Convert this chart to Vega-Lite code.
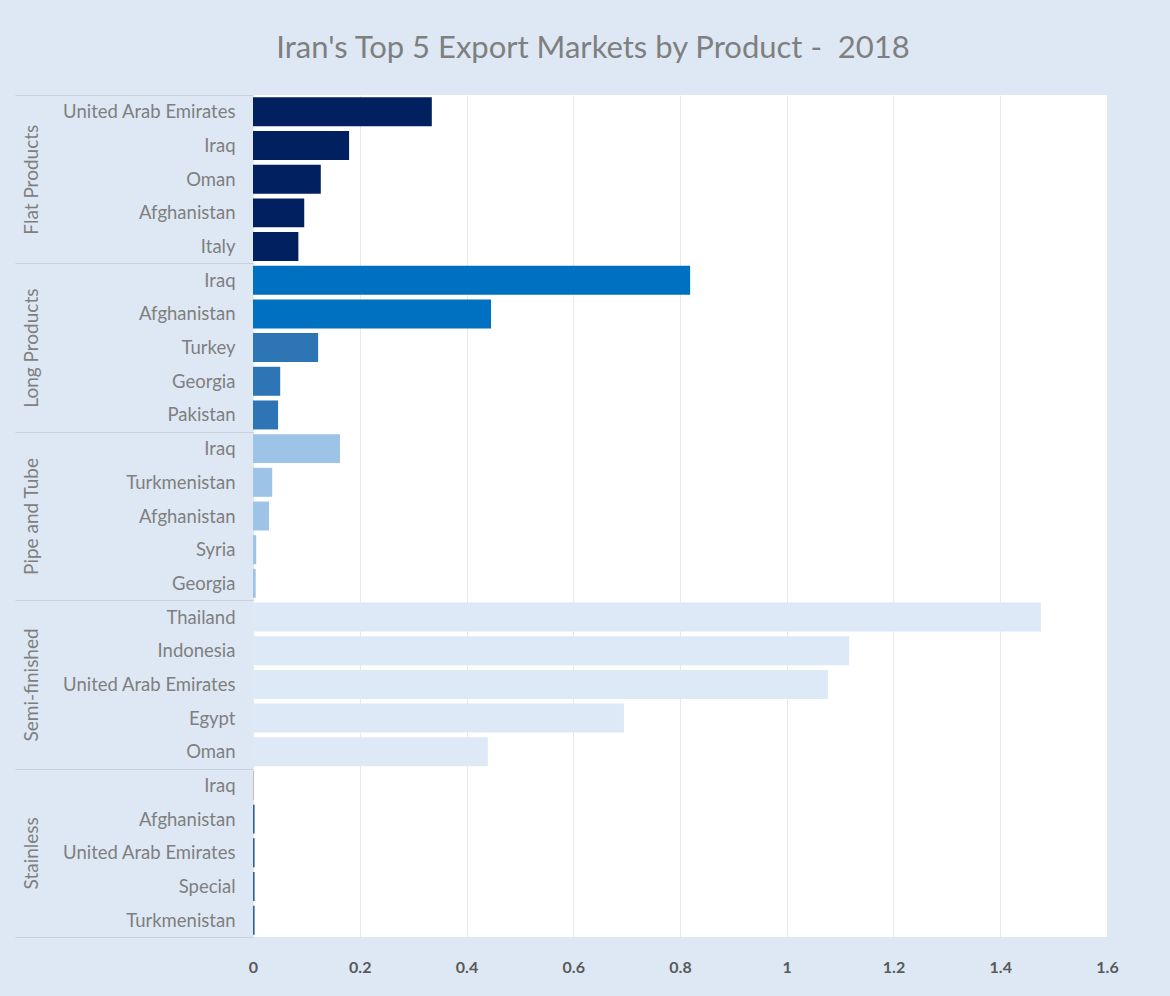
{
  "$schema": "https://vega.github.io/schema/vega-lite/v6.json",
  "width": 854,
  "height": 842,
  "autosize": {"type": "none"},
  "padding": {"left": 253, "top": 95, "right": 63, "bottom": 59},
  "background": "#dee8f4",
  "config": {
    "font": "Lato",
    "view": {"fill": "white", "stroke": null}
  },
  "title": {
    "text": "Iran's Top 5 Export Markets by Product - \u00a02018",
    "fontSize": 31,
    "font": "Lato",
    "fontWeight": "normal",
    "color": "#7f7f7f",
    "anchor": "middle",
    "dx": -87,
    "offset": 21
  },
  "data": {
    "values": [
      {"group": "Flat Products", "country": "United Arab Emirates", "key": "Flat Products|United Arab Emirates", "value": 0.335},
      {"group": "Flat Products", "country": "Iraq", "key": "Flat Products|Iraq", "value": 0.180},
      {"group": "Flat Products", "country": "Oman", "key": "Flat Products|Oman", "value": 0.127},
      {"group": "Flat Products", "country": "Afghanistan", "key": "Flat Products|Afghanistan", "value": 0.096},
      {"group": "Flat Products", "country": "Italy", "key": "Flat Products|Italy", "value": 0.085},
      {"group": "Long Products", "country": "Iraq", "key": "Long Products|Iraq", "value": 0.819},
      {"group": "Long Products", "country": "Afghanistan", "key": "Long Products|Afghanistan", "value": 0.446},
      {"group": "Long Products", "country": "Turkey", "key": "Long Products|Turkey", "value": 0.122},
      {"group": "Long Products", "country": "Georgia", "key": "Long Products|Georgia", "value": 0.051},
      {"group": "Long Products", "country": "Pakistan", "key": "Long Products|Pakistan", "value": 0.047},
      {"group": "Pipe and Tube", "country": "Iraq", "key": "Pipe and Tube|Iraq", "value": 0.163},
      {"group": "Pipe and Tube", "country": "Turkmenistan", "key": "Pipe and Tube|Turkmenistan", "value": 0.036},
      {"group": "Pipe and Tube", "country": "Afghanistan", "key": "Pipe and Tube|Afghanistan", "value": 0.030},
      {"group": "Pipe and Tube", "country": "Syria", "key": "Pipe and Tube|Syria", "value": 0.006},
      {"group": "Pipe and Tube", "country": "Georgia", "key": "Pipe and Tube|Georgia", "value": 0.005},
      {"group": "Semi-finished", "country": "Thailand", "key": "Semi-finished|Thailand", "value": 1.476},
      {"group": "Semi-finished", "country": "Indonesia", "key": "Semi-finished|Indonesia", "value": 1.117},
      {"group": "Semi-finished", "country": "United Arab Emirates", "key": "Semi-finished|United Arab Emirates", "value": 1.077},
      {"group": "Semi-finished", "country": "Egypt", "key": "Semi-finished|Egypt", "value": 0.695},
      {"group": "Semi-finished", "country": "Oman", "key": "Semi-finished|Oman", "value": 0.440},
      {"group": "Stainless", "country": "Iraq", "key": "Stainless|Iraq", "value": 0.002},
      {"group": "Stainless", "country": "Afghanistan", "key": "Stainless|Afghanistan", "value": 0.003},
      {"group": "Stainless", "country": "United Arab Emirates", "key": "Stainless|United Arab Emirates", "value": 0.003},
      {"group": "Stainless", "country": "Special", "key": "Stainless|Special", "value": 0.003},
      {"group": "Stainless", "country": "Turkmenistan", "key": "Stainless|Turkmenistan", "value": 0.003}
    ]
  },
  "layer": [
    {
      "mark": {"type": "bar", "height": {"band": 0.86}},
      "encoding": {
        "y": {
          "field": "key",
          "type": "nominal",
          "sort": null,
          "scale": {"paddingInner": 0, "paddingOuter": 0},
          "axis": {
            "title": null,
            "domain": false,
            "grid": false,
            "tickBand": "extent",
            "tickSize": 238,
            "tickWidth": 1,
            "tickColor": {
              "condition": {
                "test": "indexof(['Flat Products|Italy','Long Products|Pakistan','Pipe and Tube|Georgia','Semi-finished|Oman','Stainless|Turkmenistan'], datum.value) >= 0 || datum.extra",
                "value": "#c7d1dd"
              },
              "value": "transparent"
            },
            "labelExpr": "split(datum.label, '|')[1]",
            "labelPadding": -220,
            "labelFontSize": 18.5,
            "labelColor": "#7f7f7f",
            "labelFont": "Lato",
            "labelLimit": 250
          }
        },
        "x": {
          "field": "value",
          "type": "quantitative",
          "scale": {"domain": [0, 1.6], "nice": false},
          "axis": {
            "title": null,
            "values": [0, 0.2, 0.4, 0.6, 0.8, 1, 1.2, 1.4, 1.6],
            "format": "~g",
            "domain": false,
            "ticks": false,
            "grid": true,
            "gridColor": "#e9e9e9",
            "gridWidth": 1,
            "labelPadding": 22,
            "labelFontSize": 16,
            "labelFontWeight": "bold",
            "labelColor": "#595959",
            "labelFont": "Lato",
            "labelFlush": false
          }
        },
        "color": {
          "field": "key",
          "type": "nominal",
          "legend": null,
          "scale": {
            "domain": [
              "Flat Products|United Arab Emirates", "Flat Products|Iraq", "Flat Products|Oman", "Flat Products|Afghanistan", "Flat Products|Italy",
              "Long Products|Iraq", "Long Products|Afghanistan", "Long Products|Turkey", "Long Products|Georgia", "Long Products|Pakistan",
              "Pipe and Tube|Iraq", "Pipe and Tube|Turkmenistan", "Pipe and Tube|Afghanistan", "Pipe and Tube|Syria", "Pipe and Tube|Georgia",
              "Semi-finished|Thailand", "Semi-finished|Indonesia", "Semi-finished|United Arab Emirates", "Semi-finished|Egypt", "Semi-finished|Oman",
              "Stainless|Iraq", "Stainless|Afghanistan", "Stainless|United Arab Emirates", "Stainless|Special", "Stainless|Turkmenistan"
            ],
            "range": [
              "#002060", "#002060", "#002060", "#002060", "#002060",
              "#0070c0", "#0070c0", "#2e75b6", "#2e75b6", "#2e75b6",
              "#9dc3e6", "#9dc3e6", "#9dc3e6", "#9dc3e6", "#9dc3e6",
              "#dde9f6", "#dde9f6", "#dde9f6", "#dde9f6", "#dde9f6",
              "#c8bfb3", "#2f5f8a", "#2f5f8a", "#2f5f8a", "#2f5f8a"
            ]
          }
        }
      }
    },
    {
      "mark": {"type": "point", "opacity": 0},
      "encoding": {
        "y": {
          "field": "group",
          "type": "nominal",
          "sort": ["Flat Products", "Long Products", "Pipe and Tube", "Semi-finished", "Stainless"],
          "scale": {"paddingInner": 0, "paddingOuter": 0},
          "axis": {
            "orient": "left",
            "title": null,
            "domain": false,
            "ticks": false,
            "grid": false,
            "offset": 220,
            "labelPadding": 2,
            "labelAngle": -90,
            "labelAlign": "center",
            "labelBaseline": "middle",
            "labelFontSize": 19,
            "labelColor": "#7f7f7f",
            "labelFont": "Lato",
            "labelOverlap": false,
            "labelFlush": false
          }
        },
        "x": {"field": "value", "type": "quantitative"}
      }
    }
  ],
  "resolve": {"scale": {"y": "independent"}, "axis": {"y": "independent"}}
}
